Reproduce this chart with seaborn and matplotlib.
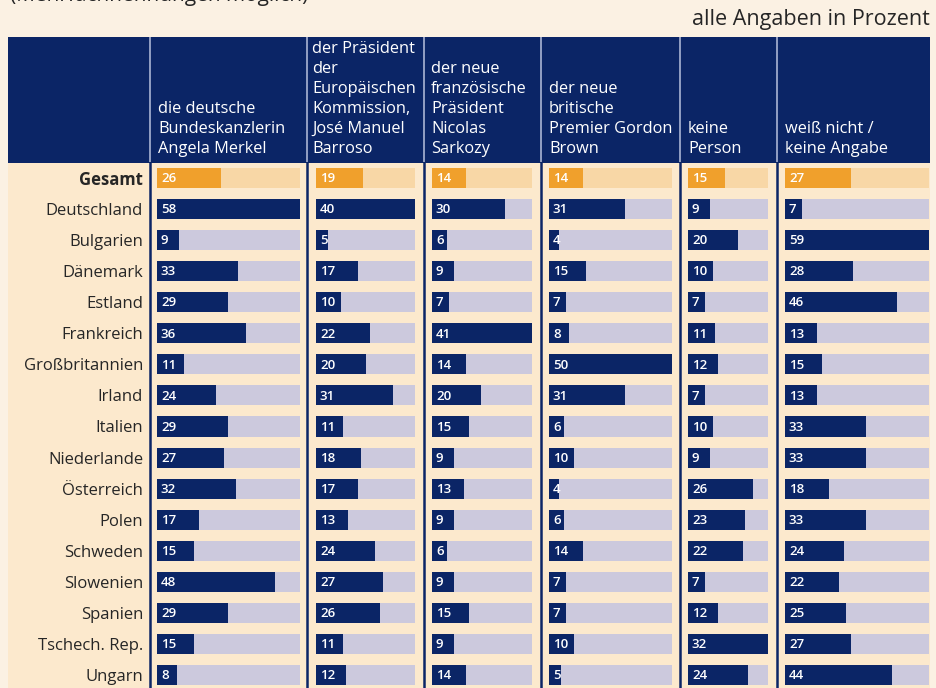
import numpy as np
import pandas as pd
import matplotlib
matplotlib.use("Agg")
import matplotlib.pyplot as plt
import seaborn as sns
from matplotlib.patches import Rectangle

sns.set_theme(style="white")
plt.rcParams['font.family'] = ['Open Sans', 'DejaVu Sans']

# ---------------- data ----------------
countries = ["Gesamt", "Deutschland", "Bulgarien", "Dänemark", "Estland", "Frankreich",
             "Großbritannien", "Irland", "Italien", "Niederlande", "Österreich", "Polen",
             "Schweden", "Slowenien", "Spanien", "Tschech. Rep.", "Ungarn"]

headers = [
    ["die deutsche", "Bundeskanzlerin", "Angela Merkel"],
    ["der Präsident", "der", "Europäischen", "Kommission,", "José Manuel", "Barroso"],
    ["der neue", "französische", "Präsident", "Nicolas", "Sarkozy"],
    ["der neue", "britische", "Premier Gordon", "Brown"],
    ["keine", "Person"],
    ["weiß nicht /", "keine Angabe"],
]

merkel   = [26, 58, 9, 33, 29, 36, 11, 24, 29, 27, 32, 17, 15, 48, 29, 15, 8]
barroso  = [19, 40, 5, 17, 10, 22, 20, 31, 11, 18, 17, 13, 24, 27, 26, 11, 12]
sarkozy  = [14, 30, 6, 9, 7, 41, 14, 20, 15, 9, 13, 9, 6, 9, 15, 9, 14]
brown    = [14, 31, 4, 15, 7, 8, 50, 31, 6, 10, 4, 6, 14, 7, 7, 10, 5]
keine    = [15, 9, 20, 10, 7, 11, 12, 7, 10, 9, 26, 23, 22, 7, 12, 32, 24]
weiss    = [27, 7, 59, 28, 46, 13, 15, 13, 33, 33, 18, 33, 24, 22, 25, 27, 44]

series = [merkel, barroso, sarkozy, brown, keine, weiss]

title_right = "alle Angaben in Prozent"
top_note = "(Mehrfachnennungen möglich)"

# ---------------- style ----------------
W, H = 937, 688
NAVY = "#0b2566"
TRACK = "#ccc9dd"
ORANGE = "#f0a02c"
ORANGE_LT = "#f8d7a6"
PANEL = "#fce9cd"
FIGBG = "#fbf1e3"
TEXT = "#262626"

# pixel geometry (layout only)
track_x = [(157, 300), (316, 415), (432, 532), (549, 672), (688, 768), (785, 929)]
col_left = [150, 307, 424, 541, 680, 777]
header_text_x = [158, 312, 431, 549, 688, 785]
row_top_px = 178 - 15.53
row_bot_px = 675 + 15.53

fig = plt.figure(figsize=(W / 100, H / 100), dpi=100)
fig.patch.set_facecolor(FIGBG)

bg = fig.add_axes([0, 0, 1, 1])
bg.set_xlim(0, W)
bg.set_ylim(H, 0)
bg.axis("off")
bg.set_zorder(0)

# panel and header band
bg.add_patch(Rectangle((8, 163), 922, 540, facecolor=PANEL, edgecolor="none"))
bg.add_patch(Rectangle((8, 37), 922, 126, facecolor=NAVY, edgecolor="none"))
# separators
for x in col_left:
    bg.plot([x, x], [37, 162], color="#aab5d4", lw=1.2, solid_capstyle="butt")
    bg.plot([x, x], [162, H], color=NAVY, lw=1.8, solid_capstyle="butt")

# header text
for hx, lines in zip(header_text_x, headers):
    n = len(lines)
    for i, line in enumerate(lines):
        bg.text(hx, 149 - 20 * (n - 1 - i), line, color="white", fontsize=11.8,
                ha="left", va="center")

bg.text(930, 19, title_right, ha="right", va="center", fontsize=15.5, color=TEXT)
bg.text(10, 0.5, top_note, ha="left", va="baseline", fontsize=15, color=TEXT)

# ---------------- bars ----------------
df = pd.DataFrame({"land": countries})
track_pal = {c: (ORANGE_LT if c == "Gesamt" else TRACK) for c in countries}
bar_pal = {c: (ORANGE if c == "Gesamt" else NAVY) for c in countries}

for k, (vals, (x0, x1)) in enumerate(zip(series, track_x)):
    d = df.copy()
    d["wert"] = vals
    d["spur"] = max(vals)
    ax = fig.add_axes([x0 / W, 1 - row_bot_px / H, (x1 - x0) / W, (row_bot_px - row_top_px) / H])
    ax.set_zorder(2)
    ax.patch.set_alpha(0)
    sns.barplot(data=d, y="land", x="spur", hue="land", palette=track_pal, legend=False,
                width=0.645, saturation=1, orient="h", ax=ax, linewidth=0)
    sns.barplot(data=d, y="land", x="wert", hue="land", palette=bar_pal, legend=False,
                width=0.645, saturation=1, orient="h", ax=ax, linewidth=0)
    ax.set_xlim(0, max(vals))
    ax.set_ylim(len(countries) - 0.5, -0.5)
    ax.set_xlabel("")
    ax.set_ylabel("")
    ax.set_xticks([])
    for s in ax.spines.values():
        s.set_visible(False)
    for i, v in enumerate(vals):
        ax.annotate(str(v), xy=(0, i), xytext=(2.8, -0.5), textcoords="offset points",
                    ha="left", va="center", color="white", fontsize=9.5,
                    fontweight="semibold")
    if k == 0:
        ax.set_yticks(range(len(countries)))
        ax.set_yticklabels(countries, fontsize=12, color=TEXT)
        ax.tick_params(axis="y", length=0, pad=10)
        ax.get_yticklabels()[0].set_fontweight("bold")
    else:
        ax.set_yticks([])

fig.savefig("out.png", dpi=100, facecolor=fig.get_facecolor())
